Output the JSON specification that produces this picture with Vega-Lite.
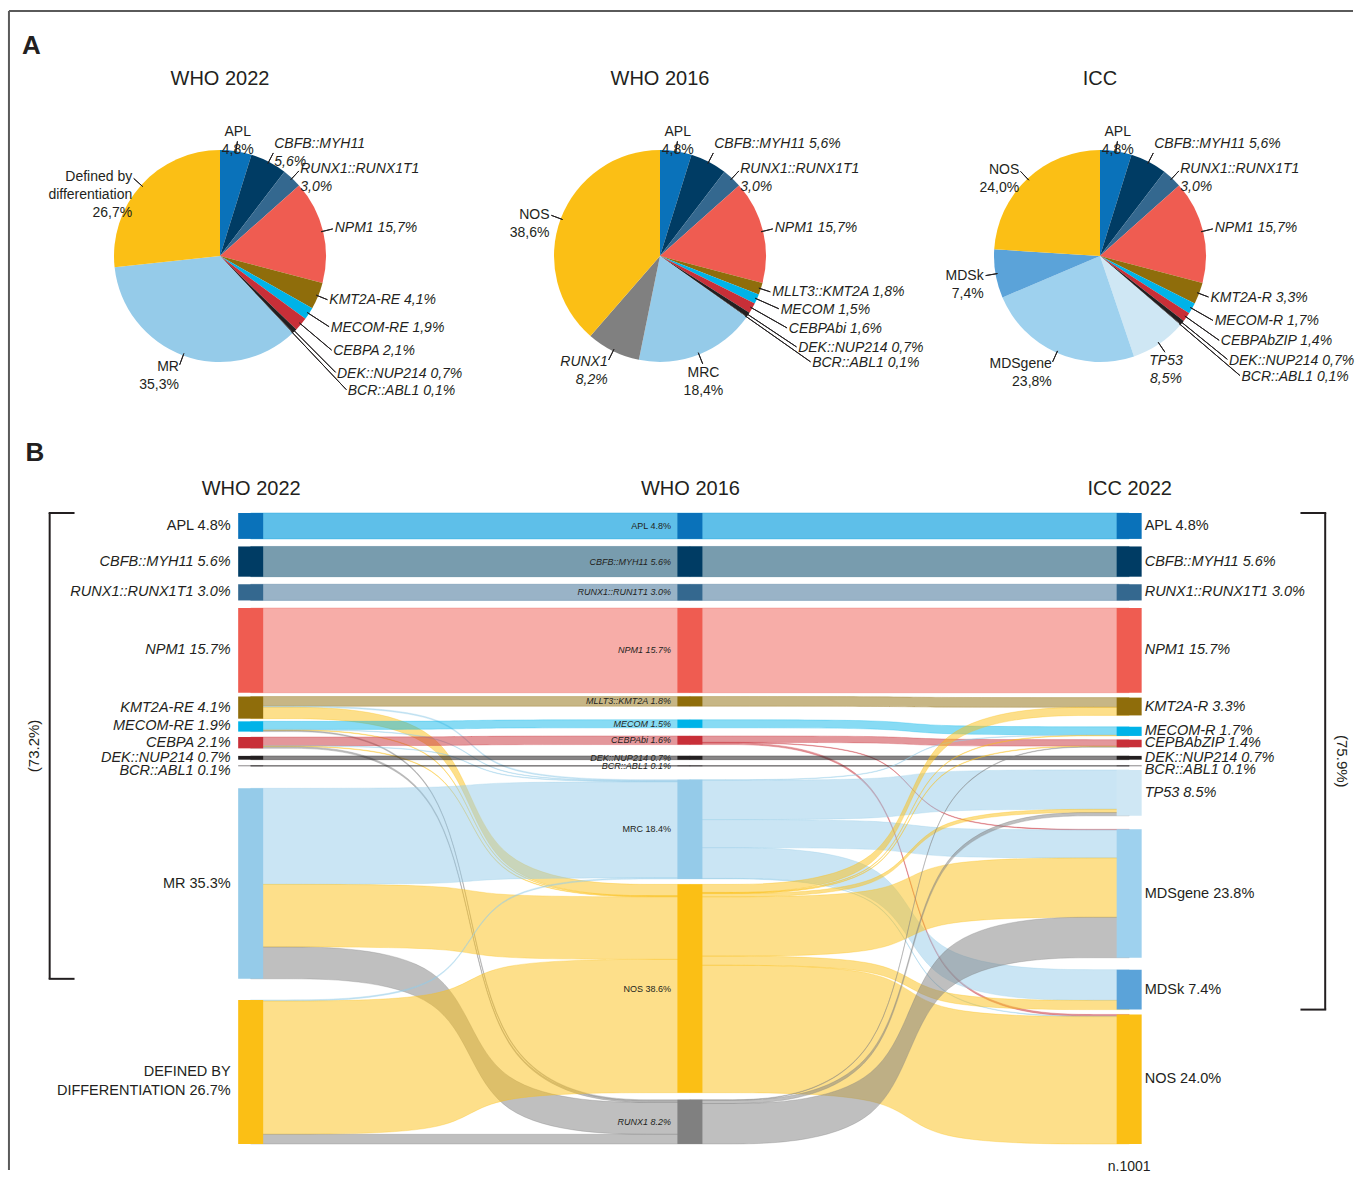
{
"$schema": "https://vega.github.io/schema/vega-lite/v6.json",
"background": "white",
"padding": {"left": 0, "right": 0, "top": 10, "bottom": 0},
"config": {"view": {"stroke": null}, "font": "Liberation Sans", "text": {"font": "Liberation Sans", "color": "#231F20"}, "title": {"font": "Liberation Sans", "color": "#231F20"}},
"datasets": {
"pies": [
{"cls":"WHO 2022","idx":1,"ck":"APL","pct":4.8,"g":false,"lab":"APL\n4,8%"},
{"cls":"WHO 2022","idx":2,"ck":"CBFB","pct":5.6,"g":true,"lab":"CBFB::MYH11\n5,6%"},
{"cls":"WHO 2022","idx":3,"ck":"RUNX1T1","pct":3.0,"g":true,"lab":"RUNX1::RUNX1T1\n3,0%"},
{"cls":"WHO 2022","idx":4,"ck":"NPM1","pct":15.7,"g":true,"lab":"NPM1  15,7%"},
{"cls":"WHO 2022","idx":5,"ck":"KMT2A","pct":4.1,"g":true,"lab":"KMT2A-RE  4,1%"},
{"cls":"WHO 2022","idx":6,"ck":"MECOM","pct":1.9,"g":true,"lab":"MECOM-RE  1,9%"},
{"cls":"WHO 2022","idx":7,"ck":"CEBPA","pct":2.1,"g":true,"lab":"CEBPA  2,1%"},
{"cls":"WHO 2022","idx":8,"ck":"DEK","pct":0.7,"g":true,"lab":"DEK::NUP214  0,7%"},
{"cls":"WHO 2022","idx":9,"ck":"BCR","pct":0.1,"g":true,"lab":"BCR::ABL1  0,1%"},
{"cls":"WHO 2022","idx":10,"ck":"MR","pct":35.3,"g":false,"lab":"MR\n35,3%"},
{"cls":"WHO 2022","idx":11,"ck":"NOS","pct":26.7,"g":false,"lab":"Defined by\ndifferentiation\n26,7%"},
{"cls":"WHO 2016","idx":1,"ck":"APL","pct":4.8,"g":false,"lab":"APL\n4,8%"},
{"cls":"WHO 2016","idx":2,"ck":"CBFB","pct":5.6,"g":true,"lab":"CBFB::MYH11  5,6%"},
{"cls":"WHO 2016","idx":3,"ck":"RUNX1T1","pct":3.0,"g":true,"lab":"RUNX1::RUNX1T1\n3,0%"},
{"cls":"WHO 2016","idx":4,"ck":"NPM1","pct":15.7,"g":true,"lab":"NPM1  15,7%"},
{"cls":"WHO 2016","idx":5,"ck":"KMT2A","pct":1.8,"g":true,"lab":"MLLT3::KMT2A  1,8%"},
{"cls":"WHO 2016","idx":6,"ck":"MECOM","pct":1.5,"g":true,"lab":"MECOM  1,5%"},
{"cls":"WHO 2016","idx":7,"ck":"CEBPA","pct":1.6,"g":true,"lab":"CEBPAbi  1,6%"},
{"cls":"WHO 2016","idx":8,"ck":"DEK","pct":0.7,"g":true,"lab":"DEK::NUP214  0,7%"},
{"cls":"WHO 2016","idx":9,"ck":"BCR","pct":0.1,"g":true,"lab":"BCR::ABL1  0,1%"},
{"cls":"WHO 2016","idx":10,"ck":"MR","pct":18.4,"g":false,"lab":"MRC\n18,4%"},
{"cls":"WHO 2016","idx":11,"ck":"RUNX1","pct":8.2,"g":true,"lab":"RUNX1\n8,2%"},
{"cls":"WHO 2016","idx":12,"ck":"NOS","pct":38.6,"g":false,"lab":"NOS\n38,6%"},
{"cls":"ICC","idx":1,"ck":"APL","pct":4.8,"g":false,"lab":"APL\n4,8%"},
{"cls":"ICC","idx":2,"ck":"CBFB","pct":5.6,"g":true,"lab":"CBFB::MYH11  5,6%"},
{"cls":"ICC","idx":3,"ck":"RUNX1T1","pct":3.0,"g":true,"lab":"RUNX1::RUNX1T1\n3,0%"},
{"cls":"ICC","idx":4,"ck":"NPM1","pct":15.7,"g":true,"lab":"NPM1  15,7%"},
{"cls":"ICC","idx":5,"ck":"KMT2A","pct":3.3,"g":true,"lab":"KMT2A-R  3,3%"},
{"cls":"ICC","idx":6,"ck":"MECOM","pct":1.7,"g":true,"lab":"MECOM-R  1,7%"},
{"cls":"ICC","idx":7,"ck":"CEBPA","pct":1.4,"g":true,"lab":"CEBPAbZIP  1,4%"},
{"cls":"ICC","idx":8,"ck":"DEK","pct":0.7,"g":true,"lab":"DEK::NUP214  0,7%"},
{"cls":"ICC","idx":9,"ck":"BCR","pct":0.1,"g":true,"lab":"BCR::ABL1  0,1%"},
{"cls":"ICC","idx":10,"ck":"TP53","pct":8.5,"g":true,"lab":"TP53\n8,5%"},
{"cls":"ICC","idx":11,"ck":"MDSgene","pct":23.8,"g":false,"lab":"MDSgene\n23,8%"},
{"cls":"ICC","idx":12,"ck":"MDSk","pct":7.4,"g":false,"lab":"MDSk\n7,4%"},
{"cls":"ICC","idx":13,"ck":"NOS","pct":24.0,"g":false,"lab":"NOS\n24,0%"}
],
"nodes": [
{"st":0,"n":"APL","lab":"APL 4.8%","y0":0,"y1":4.8,"ck":"APL","g":false},
{"st":0,"n":"CBFB","lab":"CBFB::MYH11 5.6%","y0":6.2,"y1":11.8,"ck":"CBFB","g":true},
{"st":0,"n":"RUNX1T1","lab":"RUNX1::RUNX1T1 3.0%","y0":13.2,"y1":16.2,"ck":"RUNX1T1","g":true},
{"st":0,"n":"NPM1","lab":"NPM1 15.7%","y0":17.6,"y1":33.3,"ck":"NPM1","g":true},
{"st":0,"n":"KMT2A","lab":"KMT2A-RE 4.1%","y0":34.0,"y1":38.1,"ck":"KMT2A","g":true},
{"st":0,"n":"MECOM","lab":"MECOM-RE 1.9%","y0":38.6,"y1":40.5,"ck":"MECOM","g":true},
{"st":0,"n":"CEBPA","lab":"CEBPA 2.1%","y0":41.5,"y1":43.6,"ck":"CEBPA","g":true},
{"st":0,"n":"DEK","lab":"DEK::NUP214 0.7%","y0":45.0,"y1":45.7,"ck":"DEK","g":true},
{"st":0,"n":"BCR","lab":"BCR::ABL1 0.1%","y0":46.8,"y1":46.9,"ck":"BCR","g":true},
{"st":0,"n":"MR","lab":"MR 35.3%","y0":51.0,"y1":86.3,"ck":"MR","g":false},
{"st":0,"n":"DbD","lab":"DEFINED BY\nDIFFERENTIATION 26.7%","y0":90.2,"y1":116.9,"ck":"NOS","g":false},
{"st":1,"n":"APL","lab":"APL 4.8%","y0":0,"y1":4.8,"ck":"APL","g":false},
{"st":1,"n":"CBFB","lab":"CBFB::MYH11 5.6%","y0":6.2,"y1":11.8,"ck":"CBFB","g":true},
{"st":1,"n":"RUNX1T1","lab":"RUNX1::RUN1T1 3.0%","y0":13.2,"y1":16.2,"ck":"RUNX1T1","g":true},
{"st":1,"n":"NPM1","lab":"NPM1 15.7%","y0":17.6,"y1":33.3,"ck":"NPM1","g":true},
{"st":1,"n":"MLLT3","lab":"MLLT3::KMT2A 1.8%","y0":34.0,"y1":35.8,"ck":"KMT2A","g":true},
{"st":1,"n":"MECOM","lab":"MECOM 1.5%","y0":38.3,"y1":39.8,"ck":"MECOM","g":true},
{"st":1,"n":"CEBPAbi","lab":"CEBPAbi 1.6%","y0":41.3,"y1":42.9,"ck":"CEBPA","g":true},
{"st":1,"n":"DEK","lab":"DEK::NUP214 0.7%","y0":45.0,"y1":45.7,"ck":"DEK","g":true},
{"st":1,"n":"BCR","lab":"BCR::ABL1 0.1%","y0":46.8,"y1":46.9,"ck":"BCR","g":true},
{"st":1,"n":"MRC","lab":"MRC 18.4%","y0":49.4,"y1":67.8,"ck":"MR","g":false},
{"st":1,"n":"NOS","lab":"NOS 38.6%","y0":68.8,"y1":107.4,"ck":"NOS","g":false},
{"st":1,"n":"RUNX1","lab":"RUNX1 8.2%","y0":108.7,"y1":116.9,"ck":"RUNX1","g":true},
{"st":2,"n":"APL","lab":"APL 4.8%","y0":0,"y1":4.8,"ck":"APL","g":false},
{"st":2,"n":"CBFB","lab":"CBFB::MYH11 5.6%","y0":6.2,"y1":11.8,"ck":"CBFB","g":true},
{"st":2,"n":"RUNX1T1","lab":"RUNX1::RUNX1T1 3.0%","y0":13.2,"y1":16.2,"ck":"RUNX1T1","g":true},
{"st":2,"n":"NPM1","lab":"NPM1 15.7%","y0":17.6,"y1":33.3,"ck":"NPM1","g":true},
{"st":2,"n":"KMT2A","lab":"KMT2A-R 3.3%","y0":34.2,"y1":37.5,"ck":"KMT2A","g":true},
{"st":2,"n":"MECOM","lab":"MECOM-R 1.7%","y0":39.6,"y1":41.3,"ck":"MECOM","g":true},
{"st":2,"n":"bZIP","lab":"CEPBAbZIP 1.4%","y0":42.0,"y1":43.4,"ck":"CEBPA","g":true},
{"st":2,"n":"DEK","lab":"DEK::NUP214 0.7%","y0":45.0,"y1":45.7,"ck":"DEK","g":true},
{"st":2,"n":"BCR","lab":"BCR::ABL1 0.1%","y0":46.8,"y1":46.9,"ck":"BCR","g":true},
{"st":2,"n":"TP53","lab":"TP53 8.5%","y0":47.6,"y1":56.1,"ck":"TP53","g":true},
{"st":2,"n":"MDSgene","lab":"MDSgene 23.8%","y0":58.6,"y1":82.4,"ck":"MDSgene","g":false},
{"st":2,"n":"MDSk","lab":"MDSk 7.4%","y0":84.6,"y1":92.0,"ck":"MDSk","g":false},
{"st":2,"n":"NOS","lab":"NOS 24.0%","y0":92.9,"y1":116.9,"ck":"NOS","g":false}
],
"links": [
{"id":"L1","pos":0,"top":0,"bot":4.8,"cat":"APL"},{"id":"L1","pos":1,"top":0,"bot":4.8,"cat":"APL"},
{"id":"L2","pos":0,"top":6.2,"bot":11.8,"cat":"CBFB"},{"id":"L2","pos":1,"top":6.2,"bot":11.8,"cat":"CBFB"},
{"id":"L3","pos":0,"top":13.2,"bot":16.2,"cat":"RUNX1T1"},{"id":"L3","pos":1,"top":13.2,"bot":16.2,"cat":"RUNX1T1"},
{"id":"L4","pos":0,"top":17.6,"bot":33.3,"cat":"NPM1"},{"id":"L4","pos":1,"top":17.6,"bot":33.3,"cat":"NPM1"},
{"id":"L5","pos":0,"top":34.0,"bot":35.8,"cat":"KMT2A"},{"id":"L5","pos":1,"top":34.0,"bot":35.8,"cat":"KMT2A"},
{"id":"L6","pos":0,"top":35.8,"bot":36.0,"cat":"MR"},{"id":"L6","pos":0.49,"top":35.8,"bot":36.0,"cat":"MR"},{"id":"L6","pos":0.51,"top":49.4,"bot":49.6,"cat":"MR"},{"id":"L6","pos":1,"top":49.4,"bot":49.6,"cat":"MR"},
{"id":"L7","pos":0,"top":36.0,"bot":38.1,"cat":"NOS"},{"id":"L7","pos":0.49,"top":36.0,"bot":38.1,"cat":"NOS"},{"id":"L7","pos":0.51,"top":68.8,"bot":70.9,"cat":"NOS"},{"id":"L7","pos":1,"top":68.8,"bot":70.9,"cat":"NOS"},
{"id":"L8","pos":0,"top":38.6,"bot":40.1,"cat":"MECOM"},{"id":"L8","pos":0.49,"top":38.6,"bot":40.1,"cat":"MECOM"},{"id":"L8","pos":0.51,"top":38.3,"bot":39.8,"cat":"MECOM"},{"id":"L8","pos":1,"top":38.3,"bot":39.8,"cat":"MECOM"},
{"id":"L9","pos":0,"top":40.1,"bot":40.2,"cat":"MR"},{"id":"L9","pos":0.49,"top":40.1,"bot":40.2,"cat":"MR"},{"id":"L9","pos":0.51,"top":49.6,"bot":49.7,"cat":"MR"},{"id":"L9","pos":1,"top":49.6,"bot":49.7,"cat":"MR"},
{"id":"L10","pos":0,"top":40.2,"bot":40.3,"cat":"NOS"},{"id":"L10","pos":0.49,"top":40.2,"bot":40.3,"cat":"NOS"},{"id":"L10","pos":0.51,"top":70.9,"bot":71.0,"cat":"NOS"},{"id":"L10","pos":1,"top":70.9,"bot":71.0,"cat":"NOS"},
{"id":"L11","pos":0,"top":40.3,"bot":40.5,"cat":"RUNX1"},{"id":"L11","pos":0.49,"top":40.3,"bot":40.5,"cat":"RUNX1"},{"id":"L11","pos":0.51,"top":108.7,"bot":108.9,"cat":"RUNX1"},{"id":"L11","pos":1,"top":108.7,"bot":108.9,"cat":"RUNX1"},
{"id":"L12","pos":0,"top":41.5,"bot":43.1,"cat":"CEBPA"},{"id":"L12","pos":0.49,"top":41.5,"bot":43.1,"cat":"CEBPA"},{"id":"L12","pos":0.51,"top":41.3,"bot":42.9,"cat":"CEBPA"},{"id":"L12","pos":1,"top":41.3,"bot":42.9,"cat":"CEBPA"},
{"id":"L13","pos":0,"top":43.1,"bot":43.2,"cat":"MR"},{"id":"L13","pos":0.49,"top":43.1,"bot":43.2,"cat":"MR"},{"id":"L13","pos":0.51,"top":49.7,"bot":49.8,"cat":"MR"},{"id":"L13","pos":1,"top":49.7,"bot":49.8,"cat":"MR"},
{"id":"L14","pos":0,"top":43.2,"bot":43.3,"cat":"NOS"},{"id":"L14","pos":0.49,"top":43.2,"bot":43.3,"cat":"NOS"},{"id":"L14","pos":0.51,"top":71.0,"bot":71.1,"cat":"NOS"},{"id":"L14","pos":1,"top":71.0,"bot":71.1,"cat":"NOS"},
{"id":"L15","pos":0,"top":43.3,"bot":43.6,"cat":"RUNX1"},{"id":"L15","pos":0.49,"top":43.3,"bot":43.6,"cat":"RUNX1"},{"id":"L15","pos":0.51,"top":108.9,"bot":109.2,"cat":"RUNX1"},{"id":"L15","pos":1,"top":108.9,"bot":109.2,"cat":"RUNX1"},
{"id":"L16","pos":0,"top":45.0,"bot":45.7,"cat":"DEK"},{"id":"L16","pos":1,"top":45.0,"bot":45.7,"cat":"DEK"},
{"id":"L17","pos":0,"top":46.8,"bot":46.9,"cat":"BCR"},{"id":"L17","pos":1,"top":46.8,"bot":46.9,"cat":"BCR"},
{"id":"L18","pos":0,"top":51.0,"bot":68.8,"cat":"MR"},{"id":"L18","pos":0.49,"top":51.0,"bot":68.8,"cat":"MR"},{"id":"L18","pos":0.51,"top":49.8,"bot":67.6,"cat":"MR"},{"id":"L18","pos":1,"top":49.8,"bot":67.6,"cat":"MR"},
{"id":"L19","pos":0,"top":68.8,"bot":80.4,"cat":"NOS"},{"id":"L19","pos":0.49,"top":68.8,"bot":80.4,"cat":"NOS"},{"id":"L19","pos":0.51,"top":71.1,"bot":82.7,"cat":"NOS"},{"id":"L19","pos":1,"top":71.1,"bot":82.7,"cat":"NOS"},
{"id":"L20","pos":0,"top":80.4,"bot":86.3,"cat":"RUNX1"},{"id":"L20","pos":0.49,"top":80.4,"bot":86.3,"cat":"RUNX1"},{"id":"L20","pos":0.51,"top":109.2,"bot":115.1,"cat":"RUNX1"},{"id":"L20","pos":1,"top":109.2,"bot":115.1,"cat":"RUNX1"},
{"id":"L21","pos":0,"top":90.2,"bot":90.4,"cat":"MR"},{"id":"L21","pos":0.49,"top":90.2,"bot":90.4,"cat":"MR"},{"id":"L21","pos":0.51,"top":67.6,"bot":67.8,"cat":"MR"},{"id":"L21","pos":1,"top":67.6,"bot":67.8,"cat":"MR"},
{"id":"L22","pos":0,"top":90.4,"bot":115.1,"cat":"NOS"},{"id":"L22","pos":0.49,"top":90.4,"bot":115.1,"cat":"NOS"},{"id":"L22","pos":0.51,"top":82.7,"bot":107.4,"cat":"NOS"},{"id":"L22","pos":1,"top":82.7,"bot":107.4,"cat":"NOS"},
{"id":"L23","pos":0,"top":115.1,"bot":116.9,"cat":"RUNX1"},{"id":"L23","pos":1,"top":115.1,"bot":116.9,"cat":"RUNX1"},
{"id":"M1","pos":1,"top":0,"bot":4.8,"cat":"APL"},{"id":"M1","pos":2,"top":0,"bot":4.8,"cat":"APL"},
{"id":"M2","pos":1,"top":6.2,"bot":11.8,"cat":"CBFB"},{"id":"M2","pos":2,"top":6.2,"bot":11.8,"cat":"CBFB"},
{"id":"M3","pos":1,"top":13.2,"bot":16.2,"cat":"RUNX1T1"},{"id":"M3","pos":2,"top":13.2,"bot":16.2,"cat":"RUNX1T1"},
{"id":"M4","pos":1,"top":17.6,"bot":33.3,"cat":"NPM1"},{"id":"M4","pos":2,"top":17.6,"bot":33.3,"cat":"NPM1"},
{"id":"M5","pos":1,"top":34.0,"bot":35.8,"cat":"KMT2A"},{"id":"M5","pos":1.49,"top":34.0,"bot":35.8,"cat":"KMT2A"},{"id":"M5","pos":1.51,"top":34.2,"bot":36.0,"cat":"KMT2A"},{"id":"M5","pos":2,"top":34.2,"bot":36.0,"cat":"KMT2A"},
{"id":"M6","pos":1,"top":38.3,"bot":39.8,"cat":"MECOM"},{"id":"M6","pos":1.49,"top":38.3,"bot":39.8,"cat":"MECOM"},{"id":"M6","pos":1.51,"top":39.6,"bot":41.1,"cat":"MECOM"},{"id":"M6","pos":2,"top":39.6,"bot":41.1,"cat":"MECOM"},
{"id":"M7","pos":1,"top":41.3,"bot":42.5,"cat":"CEBPA"},{"id":"M7","pos":1.49,"top":41.3,"bot":42.5,"cat":"CEBPA"},{"id":"M7","pos":1.51,"top":42.0,"bot":43.2,"cat":"CEBPA"},{"id":"M7","pos":2,"top":42.0,"bot":43.2,"cat":"CEBPA"},
{"id":"M8","pos":1,"top":42.5,"bot":42.6,"cat":"CEBPA"},{"id":"M8","pos":1.49,"top":42.5,"bot":42.6,"cat":"CEBPA"},{"id":"M8","pos":1.51,"top":58.6,"bot":58.7,"cat":"CEBPA"},{"id":"M8","pos":2,"top":58.6,"bot":58.7,"cat":"CEBPA"},
{"id":"M9","pos":1,"top":42.6,"bot":42.9,"cat":"CEBPA"},{"id":"M9","pos":1.49,"top":42.6,"bot":42.9,"cat":"CEBPA"},{"id":"M9","pos":1.51,"top":92.9,"bot":93.2,"cat":"CEBPA"},{"id":"M9","pos":2,"top":92.9,"bot":93.2,"cat":"CEBPA"},
{"id":"M10","pos":1,"top":45.0,"bot":45.7,"cat":"DEK"},{"id":"M10","pos":2,"top":45.0,"bot":45.7,"cat":"DEK"},
{"id":"M11","pos":1,"top":46.8,"bot":46.9,"cat":"BCR"},{"id":"M11","pos":2,"top":46.8,"bot":46.9,"cat":"BCR"},
{"id":"M12","pos":1,"top":49.4,"bot":49.5,"cat":"MR"},{"id":"M12","pos":1.49,"top":49.4,"bot":49.5,"cat":"MR"},{"id":"M12","pos":1.51,"top":41.1,"bot":41.2,"cat":"MR"},{"id":"M12","pos":2,"top":41.1,"bot":41.2,"cat":"MR"},
{"id":"M13","pos":1,"top":49.5,"bot":56.8,"cat":"MR"},{"id":"M13","pos":1.49,"top":49.5,"bot":56.8,"cat":"MR"},{"id":"M13","pos":1.51,"top":47.6,"bot":54.9,"cat":"MR"},{"id":"M13","pos":2,"top":47.6,"bot":54.9,"cat":"MR"},
{"id":"M14","pos":1,"top":56.8,"bot":62.0,"cat":"MR"},{"id":"M14","pos":1.49,"top":56.8,"bot":62.0,"cat":"MR"},{"id":"M14","pos":1.51,"top":58.7,"bot":63.9,"cat":"MR"},{"id":"M14","pos":2,"top":58.7,"bot":63.9,"cat":"MR"},
{"id":"M15","pos":1,"top":62.0,"bot":67.7,"cat":"MR"},{"id":"M15","pos":1.49,"top":62.0,"bot":67.7,"cat":"MR"},{"id":"M15","pos":1.51,"top":84.6,"bot":90.3,"cat":"MR"},{"id":"M15","pos":2,"top":84.6,"bot":90.3,"cat":"MR"},
{"id":"M16","pos":1,"top":67.7,"bot":67.8,"cat":"MR"},{"id":"M16","pos":1.49,"top":67.7,"bot":67.8,"cat":"MR"},{"id":"M16","pos":1.51,"top":93.2,"bot":93.3,"cat":"MR"},{"id":"M16","pos":2,"top":93.2,"bot":93.3,"cat":"MR"},
{"id":"M17","pos":1,"top":68.8,"bot":70.3,"cat":"NOS"},{"id":"M17","pos":1.49,"top":68.8,"bot":70.3,"cat":"NOS"},{"id":"M17","pos":1.51,"top":36.0,"bot":37.5,"cat":"NOS"},{"id":"M17","pos":2,"top":36.0,"bot":37.5,"cat":"NOS"},
{"id":"M18","pos":1,"top":70.3,"bot":70.4,"cat":"NOS"},{"id":"M18","pos":1.49,"top":70.3,"bot":70.4,"cat":"NOS"},{"id":"M18","pos":1.51,"top":41.2,"bot":41.3,"cat":"NOS"},{"id":"M18","pos":2,"top":41.2,"bot":41.3,"cat":"NOS"},
{"id":"M19","pos":1,"top":70.4,"bot":70.5,"cat":"NOS"},{"id":"M19","pos":1.49,"top":70.4,"bot":70.5,"cat":"NOS"},{"id":"M19","pos":1.51,"top":43.2,"bot":43.3,"cat":"NOS"},{"id":"M19","pos":2,"top":43.2,"bot":43.3,"cat":"NOS"},
{"id":"M20","pos":1,"top":70.5,"bot":71.1,"cat":"NOS"},{"id":"M20","pos":1.49,"top":70.5,"bot":71.1,"cat":"NOS"},{"id":"M20","pos":1.51,"top":54.9,"bot":55.5,"cat":"NOS"},{"id":"M20","pos":2,"top":54.9,"bot":55.5,"cat":"NOS"},
{"id":"M21","pos":1,"top":71.1,"bot":82.1,"cat":"NOS"},{"id":"M21","pos":1.49,"top":71.1,"bot":82.1,"cat":"NOS"},{"id":"M21","pos":1.51,"top":63.9,"bot":74.9,"cat":"NOS"},{"id":"M21","pos":2,"top":63.9,"bot":74.9,"cat":"NOS"},
{"id":"M22","pos":1,"top":82.1,"bot":83.8,"cat":"NOS"},{"id":"M22","pos":1.49,"top":82.1,"bot":83.8,"cat":"NOS"},{"id":"M22","pos":1.51,"top":90.3,"bot":92.0,"cat":"NOS"},{"id":"M22","pos":2,"top":90.3,"bot":92.0,"cat":"NOS"},
{"id":"M23","pos":1,"top":83.8,"bot":107.4,"cat":"NOS"},{"id":"M23","pos":1.49,"top":83.8,"bot":107.4,"cat":"NOS"},{"id":"M23","pos":1.51,"top":93.3,"bot":116.9,"cat":"NOS"},{"id":"M23","pos":2,"top":93.3,"bot":116.9,"cat":"NOS"},
{"id":"M24","pos":1,"top":108.7,"bot":108.8,"cat":"RUNX1"},{"id":"M24","pos":1.49,"top":108.7,"bot":108.8,"cat":"RUNX1"},{"id":"M24","pos":1.51,"top":43.3,"bot":43.4,"cat":"RUNX1"},{"id":"M24","pos":2,"top":43.3,"bot":43.4,"cat":"RUNX1"},
{"id":"M25","pos":1,"top":108.8,"bot":109.4,"cat":"RUNX1"},{"id":"M25","pos":1.49,"top":108.8,"bot":109.4,"cat":"RUNX1"},{"id":"M25","pos":1.51,"top":55.5,"bot":56.1,"cat":"RUNX1"},{"id":"M25","pos":2,"top":55.5,"bot":56.1,"cat":"RUNX1"},
{"id":"M26","pos":1,"top":109.4,"bot":116.9,"cat":"RUNX1"},{"id":"M26","pos":1.49,"top":109.4,"bot":116.9,"cat":"RUNX1"},{"id":"M26","pos":1.51,"top":74.9,"bot":82.4,"cat":"RUNX1"},{"id":"M26","pos":2,"top":74.9,"bot":82.4,"cat":"RUNX1"}
],
"br": [
{"s":"L","y0":0,"y1":86.3,"lab":"(73.2%)"},
{"s":"R","y0":0,"y1":92.0,"lab":"(75.9%)"}
]
},
"spacing": 407,
"bounds": "flush",
"vconcat": [
{
"data": {"name": "pies"},
"transform": [{"stack": "pct", "groupby": ["cls"], "sort": [{"field": "idx", "order": "ascending"}], "as": ["c0", "c1"]}],
"title": {"text": "A", "anchor": "start", "frame": "group", "fontSize": 26, "fontWeight": "bold", "dx": 22, "offset": 6},
"facet": {"column": {"field": "cls", "type": "nominal", "sort": ["WHO 2022", "WHO 2016", "ICC"], "header": {"title": null, "labelFontSize": 20, "labelFont": "Liberation Sans", "labelColor": "#231F20", "labelPadding": 17}}},
"spacing": 0,
"bounds": "flush",
"spec": {
"width": 440, "height": 300,
"encoding": {"theta": {"field": "pct", "type": "quantitative", "stack": true}, "order": {"field": "idx", "type": "quantitative"}},
"layer": [
{"mark": {"type": "arc", "outerRadius": 106}, "encoding": {"color": {"field": "ck", "type": "nominal", "legend": null, "scale": {"domain": ["APL","CBFB","RUNX1T1","NPM1","KMT2A","MECOM","CEBPA","DEK","BCR","MR","NOS","RUNX1","TP53","MDSgene","MDSk"], "range": ["#0A72BA","#003C64","#34688F","#EF5C51","#8F6D0B","#00B3E8","#C82F38","#231F20","#231F20","#95CBE9","#FBBF15","#808080","#CFE7F4","#9ED1EE","#5BA3D9"]}}}},
{"mark": {"type": "arc", "innerRadius": 104, "outerRadius": 116, "padAngle": 2, "fill": "transparent", "strokeWidth": 1}, "encoding": {"stroke": {"condition": {"test": "datum.idx <= 5 || datum.idx >= 10", "value": "#231F20"}, "value": "transparent"}}},
{"mark": {"type": "arc", "innerRadius": 104, "outerRadius": 130, "padAngle": 2, "fill": "transparent", "strokeWidth": 1}, "encoding": {"stroke": {"condition": {"test": "datum.idx == 6", "value": "#231F20"}, "value": "transparent"}}},
{"mark": {"type": "arc", "innerRadius": 104, "outerRadius": 146, "padAngle": 2, "fill": "transparent", "strokeWidth": 1}, "encoding": {"stroke": {"condition": {"test": "datum.idx == 7", "value": "#231F20"}, "value": "transparent"}}},
{"mark": {"type": "arc", "innerRadius": 104, "outerRadius": 164, "padAngle": 2, "fill": "transparent", "strokeWidth": 1}, "encoding": {"stroke": {"condition": {"test": "datum.idx == 8", "value": "#231F20"}, "value": "transparent"}}},
{"mark": {"type": "arc", "innerRadius": 104, "outerRadius": 184, "padAngle": 2, "fill": "transparent", "strokeWidth": 1}, "encoding": {"stroke": {"condition": {"test": "datum.idx == 9", "value": "#231F20"}, "value": "transparent"}}},
{"mark": {"type": "text", "radius": 118, "align": "center", "baseline": "bottom", "fontSize": 14, "lineHeight": 18, "lineBreak": "\n", "color": "#231F20"}, "encoding": {"text": {"condition": {"test": "(datum.c0 + datum.pct/2) < 5 && !datum.g", "field": "lab", "type": "nominal"}, "value": ""}}},
{"mark": {"type": "text", "radius": 118, "align": "center", "baseline": "bottom", "fontSize": 14, "lineHeight": 18, "lineBreak": "\n", "fontStyle": "italic", "color": "#231F20"}, "encoding": {"text": {"condition": {"test": "(datum.c0 + datum.pct/2) < 5 && datum.g", "field": "lab", "type": "nominal"}, "value": ""}}},
{"mark": {"type": "text", "radius": 118, "align": "left", "baseline": "bottom", "fontSize": 14, "lineHeight": 18, "lineBreak": "\n", "fontStyle": "italic", "color": "#231F20"}, "encoding": {"text": {"condition": {"test": "(datum.c0 + datum.pct/2) >= 5 && (datum.c0 + datum.pct/2) < 10", "field": "lab", "type": "nominal"}, "value": ""}}},
{"mark": {"type": "text", "radius": 118, "align": "left", "baseline": "middle", "fontSize": 14, "lineHeight": 18, "lineBreak": "\n", "fontStyle": "italic", "color": "#231F20"}, "encoding": {"text": {"condition": {"test": "(datum.c0 + datum.pct/2) >= 10 && (datum.c0 + datum.pct/2) < 38.5 && datum.idx <= 5", "field": "lab", "type": "nominal"}, "value": ""}}},
{"mark": {"type": "text", "radius": 132, "align": "left", "baseline": "middle", "fontSize": 14, "lineHeight": 18, "lineBreak": "\n", "fontStyle": "italic", "color": "#231F20"}, "encoding": {"text": {"condition": {"test": "(datum.c0 + datum.pct/2) >= 10 && (datum.c0 + datum.pct/2) < 38.5 && datum.idx == 6", "field": "lab", "type": "nominal"}, "value": ""}}},
{"mark": {"type": "text", "radius": 148, "align": "left", "baseline": "middle", "fontSize": 14, "lineHeight": 18, "lineBreak": "\n", "fontStyle": "italic", "color": "#231F20"}, "encoding": {"text": {"condition": {"test": "(datum.c0 + datum.pct/2) >= 10 && (datum.c0 + datum.pct/2) < 38.5 && datum.idx == 7", "field": "lab", "type": "nominal"}, "value": ""}}},
{"mark": {"type": "text", "radius": 166, "align": "left", "baseline": "middle", "fontSize": 14, "lineHeight": 18, "lineBreak": "\n", "fontStyle": "italic", "color": "#231F20"}, "encoding": {"text": {"condition": {"test": "(datum.c0 + datum.pct/2) >= 10 && (datum.c0 + datum.pct/2) < 38.5 && datum.idx == 8", "field": "lab", "type": "nominal"}, "value": ""}}},
{"mark": {"type": "text", "radius": 186, "align": "left", "baseline": "middle", "fontSize": 14, "lineHeight": 18, "lineBreak": "\n", "fontStyle": "italic", "color": "#231F20"}, "encoding": {"text": {"condition": {"test": "(datum.c0 + datum.pct/2) >= 10 && (datum.c0 + datum.pct/2) < 38.5 && datum.idx == 9", "field": "lab", "type": "nominal"}, "value": ""}}},
{"mark": {"type": "text", "radius": 118, "align": "center", "baseline": "top", "fontSize": 14, "lineHeight": 18, "lineBreak": "\n", "color": "#231F20"}, "encoding": {"text": {"condition": {"test": "(datum.c0 + datum.pct/2) >= 38.5 && (datum.c0 + datum.pct/2) < 55 && !datum.g", "field": "lab", "type": "nominal"}, "value": ""}}},
{"mark": {"type": "text", "radius": 118, "align": "center", "baseline": "top", "fontSize": 14, "lineHeight": 18, "lineBreak": "\n", "fontStyle": "italic", "color": "#231F20"}, "encoding": {"text": {"condition": {"test": "(datum.c0 + datum.pct/2) >= 38.5 && (datum.c0 + datum.pct/2) < 55 && datum.g", "field": "lab", "type": "nominal"}, "value": ""}}},
{"mark": {"type": "text", "radius": 118, "align": "right", "baseline": "middle", "fontSize": 14, "lineHeight": 18, "lineBreak": "\n", "color": "#231F20"}, "encoding": {"text": {"condition": {"test": "(datum.c0 + datum.pct/2) >= 55 && !datum.g", "field": "lab", "type": "nominal"}, "value": ""}}},
{"mark": {"type": "text", "radius": 118, "align": "right", "baseline": "middle", "fontSize": 14, "lineHeight": 18, "lineBreak": "\n", "fontStyle": "italic", "color": "#231F20"}, "encoding": {"text": {"condition": {"test": "(datum.c0 + datum.pct/2) >= 55 && datum.g", "field": "lab", "type": "nominal"}, "value": ""}}}
]
}
},
{
"width": 1358, "height": 631,
"layer": [
{"data": {"name": "links"}, "mark": {"type": "area", "interpolate": "basis", "strokeWidth": 0.6},
 "encoding": {
  "x": {"field": "pos", "type": "quantitative", "scale": {"domain": [-0.5593, 2.5096], "nice": false, "zero": false}, "axis": {"orient": "top", "values": [0, 1, 2], "labelExpr": "datum.value == 0 ? 'WHO 2022' : datum.value == 1 ? 'WHO 2016' : 'ICC 2022'", "domain": false, "ticks": false, "grid": false, "title": null, "labelFontSize": 20, "labelPadding": 15, "labelColor": "#231F20", "labelFont": "Liberation Sans", "labelFlush": false, "labelOverlap": false}},
  "y": {"field": "top", "type": "quantitative", "stack": null, "scale": {"domain": [0, 116.9], "reverse": true, "nice": false, "zero": false}, "axis": null},
  "y2": {"field": "bot"},
  "detail": {"field": "id", "type": "nominal"},
  "fill": {"field": "cat", "type": "nominal", "legend": null, "scale": {"domain": ["APL","CBFB","RUNX1T1","NPM1","KMT2A","MECOM","CEBPA","DEK","BCR","MR","NOS","RUNX1"], "range": ["rgba(40,170,225,0.75)","rgba(30,90,120,0.6)","rgba(52,104,143,0.5)","rgba(239,92,81,0.5)","rgba(143,109,11,0.5)","rgba(0,179,232,0.47)","rgba(200,47,56,0.5)","rgba(35,31,32,0.55)","rgba(35,31,32,0.55)","rgba(149,203,233,0.5)","rgba(251,191,21,0.5)","rgba(128,128,128,0.5)"]}},
  "stroke": {"field": "cat", "type": "nominal", "legend": null, "scale": {"domain": ["APL","CBFB","RUNX1T1","NPM1","KMT2A","MECOM","CEBPA","DEK","BCR","MR","NOS","RUNX1"], "range": ["rgba(40,170,225,0.75)","rgba(30,90,120,0.6)","rgba(52,104,143,0.5)","rgba(239,92,81,0.5)","rgba(143,109,11,0.5)","rgba(0,179,232,0.47)","rgba(200,47,56,0.5)","rgba(35,31,32,0.55)","rgba(35,31,32,0.55)","rgba(149,203,233,0.5)","rgba(251,191,21,0.5)","rgba(128,128,128,0.5)"]}}
 }},
{"data": {"name": "nodes"}, "mark": {"type": "bar", "width": 25, "orient": "vertical"},
 "encoding": {
  "x": {"field": "st", "type": "quantitative"},
  "y": {"field": "y0", "type": "quantitative", "axis": null},
  "y2": {"field": "y1"},
  "color": {"field": "ck", "type": "nominal", "legend": null, "scale": {"domain": ["APL","CBFB","RUNX1T1","NPM1","KMT2A","MECOM","CEBPA","DEK","BCR","MR","NOS","RUNX1","TP53","MDSgene","MDSk"], "range": ["#0A72BA","#003C64","#34688F","#EF5C51","#8F6D0B","#00B3E8","#C82F38","#231F20","#231F20","#95CBE9","#FBBF15","#808080","#CFE7F4","#9ED1EE","#5BA3D9"]}}
 }},
{"data": {"name": "nodes"}, "transform": [{"filter": "datum.st == 0 && !datum.g"}, {"fold": ["y0", "y1"], "as": ["e", "yv"]}],
 "mark": {"type": "text", "align": "right", "baseline": "middle", "dx": -20, "fontSize": 14.5, "lineHeight": 19, "lineBreak": "\n", "color": "#231F20"},
 "encoding": {"x": {"field": "st", "type": "quantitative"}, "y": {"aggregate": "mean", "field": "yv", "type": "quantitative", "axis": null}, "text": {"field": "lab", "type": "nominal"}}},
{"data": {"name": "nodes"}, "transform": [{"filter": "datum.st == 0 && datum.g && datum.n != 'BCR'"}, {"fold": ["y0", "y1"], "as": ["e", "yv"]}],
 "mark": {"type": "text", "align": "right", "baseline": "middle", "dx": -20, "fontSize": 14.5, "fontStyle": "italic", "color": "#231F20"},
 "encoding": {"x": {"field": "st", "type": "quantitative"}, "y": {"aggregate": "mean", "field": "yv", "type": "quantitative", "axis": null}, "text": {"field": "lab", "type": "nominal"}}},
{"data": {"name": "nodes"}, "transform": [{"filter": "datum.st == 0 && datum.n == 'BCR'"}, {"fold": ["y0", "y1"], "as": ["e", "yv"]}],
 "mark": {"type": "text", "align": "right", "baseline": "middle", "dx": -20, "dy": 5, "fontSize": 14.5, "fontStyle": "italic", "color": "#231F20"},
 "encoding": {"x": {"field": "st", "type": "quantitative"}, "y": {"aggregate": "mean", "field": "yv", "type": "quantitative", "axis": null}, "text": {"field": "lab", "type": "nominal"}}},
{"data": {"name": "nodes"}, "transform": [{"filter": "datum.st == 1 && !datum.g"}, {"fold": ["y0", "y1"], "as": ["e", "yv"]}],
 "mark": {"type": "text", "align": "right", "baseline": "middle", "dx": -19, "fontSize": 9, "color": "#231F20"},
 "encoding": {"x": {"field": "st", "type": "quantitative"}, "y": {"aggregate": "mean", "field": "yv", "type": "quantitative", "axis": null}, "text": {"field": "lab", "type": "nominal"}}},
{"data": {"name": "nodes"}, "transform": [{"filter": "datum.st == 1 && datum.g"}, {"fold": ["y0", "y1"], "as": ["e", "yv"]}],
 "mark": {"type": "text", "align": "right", "baseline": "middle", "dx": -19, "fontSize": 9, "fontStyle": "italic", "color": "#231F20"},
 "encoding": {"x": {"field": "st", "type": "quantitative"}, "y": {"aggregate": "mean", "field": "yv", "type": "quantitative", "axis": null}, "text": {"field": "lab", "type": "nominal"}}},
{"data": {"name": "nodes"}, "transform": [{"filter": "datum.st == 2 && !datum.g"}, {"fold": ["y0", "y1"], "as": ["e", "yv"]}],
 "mark": {"type": "text", "align": "left", "baseline": "middle", "dx": 15.5, "fontSize": 14.5, "color": "#231F20"},
 "encoding": {"x": {"field": "st", "type": "quantitative"}, "y": {"aggregate": "mean", "field": "yv", "type": "quantitative", "axis": null}, "text": {"field": "lab", "type": "nominal"}}},
{"data": {"name": "nodes"}, "transform": [{"filter": "datum.st == 2 && datum.g && datum.n != 'BCR'"}, {"fold": ["y0", "y1"], "as": ["e", "yv"]}],
 "mark": {"type": "text", "align": "left", "baseline": "middle", "dx": 15.5, "fontSize": 14.5, "fontStyle": "italic", "color": "#231F20"},
 "encoding": {"x": {"field": "st", "type": "quantitative"}, "y": {"aggregate": "mean", "field": "yv", "type": "quantitative", "axis": null}, "text": {"field": "lab", "type": "nominal"}}},
{"data": {"name": "nodes"}, "transform": [{"filter": "datum.st == 2 && datum.n == 'BCR'"}, {"fold": ["y0", "y1"], "as": ["e", "yv"]}],
 "mark": {"type": "text", "align": "left", "baseline": "middle", "dx": 15.5, "dy": 4, "fontSize": 14.5, "fontStyle": "italic", "color": "#231F20"},
 "encoding": {"x": {"field": "st", "type": "quantitative"}, "y": {"aggregate": "mean", "field": "yv", "type": "quantitative", "axis": null}, "text": {"field": "lab", "type": "nominal"}}},
{"data": {"name": "br"}, "transform": [{"filter": "datum.s == 'L'"}], "mark": {"type": "rule", "color": "#231F20", "strokeWidth": 2},
 "encoding": {"x": {"datum": -0.4576, "type": "quantitative"}, "y": {"field": "y0", "type": "quantitative", "axis": null}, "y2": {"field": "y1"}}},
{"data": {"name": "br"}, "transform": [{"filter": "datum.s == 'L'"}, {"fold": ["y0", "y1"], "as": ["e", "yv"]}], "mark": {"type": "rule", "color": "#231F20", "strokeWidth": 2},
 "encoding": {"x": {"datum": -0.4599, "type": "quantitative"}, "x2": {"datum": -0.401}, "y": {"field": "yv", "type": "quantitative", "axis": null}}},
{"data": {"name": "br"}, "transform": [{"filter": "datum.s == 'L'"}, {"fold": ["y0", "y1"], "as": ["e", "yv"]}], "mark": {"type": "text", "angle": 270, "fontSize": 15, "color": "#231F20"},
 "encoding": {"x": {"datum": -0.4938, "type": "quantitative"}, "y": {"aggregate": "mean", "field": "yv", "type": "quantitative", "axis": null}, "text": {"field": "lab", "type": "nominal"}}},
{"data": {"name": "br"}, "transform": [{"filter": "datum.s == 'R'"}], "mark": {"type": "rule", "color": "#231F20", "strokeWidth": 2},
 "encoding": {"x": {"datum": 2.4463, "type": "quantitative"}, "y": {"field": "y0", "type": "quantitative", "axis": null}, "y2": {"field": "y1"}}},
{"data": {"name": "br"}, "transform": [{"filter": "datum.s == 'R'"}, {"fold": ["y0", "y1"], "as": ["e", "yv"]}], "mark": {"type": "rule", "color": "#231F20", "strokeWidth": 2},
 "encoding": {"x": {"datum": 2.39, "type": "quantitative"}, "x2": {"datum": 2.4486}, "y": {"field": "yv", "type": "quantitative", "axis": null}}},
{"data": {"name": "br"}, "transform": [{"filter": "datum.s == 'R'"}, {"fold": ["y0", "y1"], "as": ["e", "yv"]}], "mark": {"type": "text", "angle": 90, "fontSize": 15, "color": "#231F20"},
 "encoding": {"x": {"datum": 2.4853, "type": "quantitative"}, "y": {"aggregate": "mean", "field": "yv", "type": "quantitative", "axis": null}, "text": {"field": "lab", "type": "nominal"}}},
{"data": {"values": [{"note": "n.1001"}]}, "mark": {"type": "text", "fontSize": 14, "color": "#231F20"},
 "encoding": {"x": {"datum": 2, "type": "quantitative"}, "y": {"datum": 121.2, "type": "quantitative", "axis": null}, "text": {"field": "note", "type": "nominal"}}},
{"data": {"values": [{"panel": "B"}]}, "mark": {"type": "text", "fontSize": 26, "fontWeight": "bold", "align": "center", "baseline": "middle", "color": "#231F20"},
 "encoding": {"x": {"datum": -0.4915, "type": "quantitative"}, "y": {"datum": -11.1, "type": "quantitative", "axis": null}, "text": {"field": "panel", "type": "nominal"}}},
{"data": {"values": [{"edge": "frame-left"}]}, "mark": {"type": "rule", "color": "#5A5A5A", "strokeWidth": 2},
 "encoding": {"x": {"datum": -0.5503, "type": "quantitative"}, "y": {"datum": -93.0, "type": "quantitative", "axis": null}, "y2": {"datum": 121.7}}},
{"data": {"values": [{"edge": "frame-top"}]}, "mark": {"type": "rule", "color": "#5A5A5A", "strokeWidth": 2},
 "encoding": {"x": {"datum": -0.5503, "type": "quantitative"}, "x2": {"datum": 2.5096}, "y": {"datum": -93.0, "type": "quantitative", "axis": null}}}
]
}
]
}
